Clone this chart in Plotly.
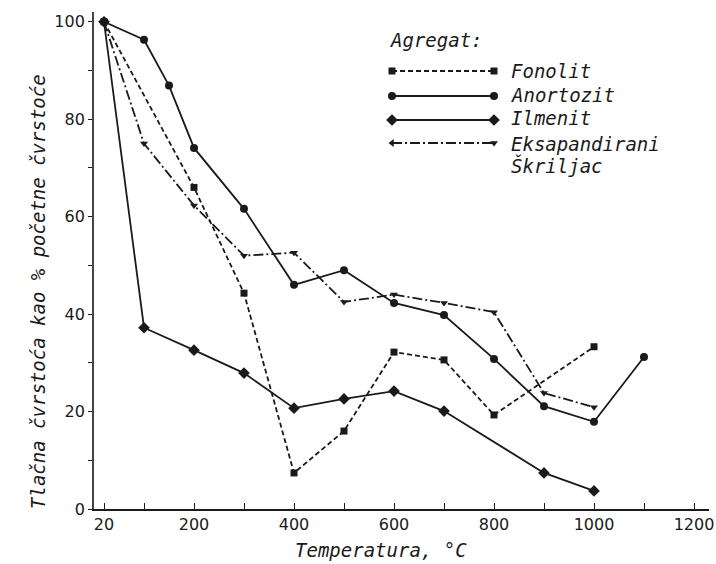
import plotly.graph_objects as go

# ---- data ----
fonolit_x = [20, 200, 300, 400, 500, 600, 700, 800, 1000]
fonolit_y = [100, 66, 44.3, 7.4, 16.0, 32.2, 30.6, 19.3, 33.3]

anortozit_x = [20, 100, 150, 200, 300, 400, 500, 600, 700, 800, 900, 1000, 1100]
anortozit_y = [100, 96.3, 86.9, 74.1, 61.6, 46.0, 49.0, 42.3, 39.8, 30.8, 21.1, 17.9, 31.2]

ilmenit_x = [20, 100, 200, 300, 400, 500, 600, 700, 900, 1000]
ilmenit_y = [100, 37.2, 32.6, 27.9, 20.7, 22.6, 24.2, 20.1, 7.4, 3.7]

skriljac_x = [20, 100, 200, 300, 400, 500, 600, 700, 800, 900, 1000]
skriljac_y = [100, 75, 62.3, 52, 52.6, 42.5, 44, 42.3, 40.4, 23.8, 20.9]

x_tickvals = [20, 100, 200, 300, 400, 500, 600, 700, 800, 900, 1000, 1100, 1200]
x_ticktext = ["20", "", "200", "", "400", "", "600", "", "800", "", "1000", "", "1200"]
y_tickvals = [0, 10, 20, 30, 40, 50, 60, 70, 80, 90, 100]
y_ticktext = ["0", "", "20", "", "40", "", "60", "", "80", "", "100"]

INK = "#1a1a1a"
MONO = "DejaVu Sans Mono"

styles = {
    "Fonolit": dict(dash="5px,3px", symbol="square", size=7),
    "Anortozit": dict(dash="solid", symbol="circle", size=8),
    "Ilmenit": dict(dash="solid", symbol="diamond", size=9),
    "Eksapandirani": dict(dash="10px,3px,2px,3px", symbol="triangle-down", size=7),
}

W, H = 716, 564
PL, PR, PT, PB = 94, 709, 12, 509          # plot-area edges in page pixels
fig = go.Figure()

for name, xs, ys in [("Fonolit", fonolit_x, fonolit_y),
                     ("Anortozit", anortozit_x, anortozit_y),
                     ("Ilmenit", ilmenit_x, ilmenit_y),
                     ("Eksapandirani", skriljac_x, skriljac_y)]:
    st = styles[name]
    fig.add_trace(go.Scatter(
        x=xs, y=ys, mode="lines+markers", name=name, showlegend=False,
        line=dict(color=INK, width=1.8, dash=st["dash"]),
        marker=dict(symbol=st["symbol"], size=st["size"], color=INK),
    ))

def px_x(p):
    return (p - PL) / (PR - PL)

def px_y(p):
    return (PB - p) / (PB - PT)

# ---- legend drawn on an overlay (paper-like) axis ----
leg_x0, leg_x1 = px_x(392), px_x(494)
leg_rows = [("Fonolit", 71), ("Anortozit", 96), ("Ilmenit", 120), ("Eksapandirani", 143)]
for name, py in leg_rows:
    st = styles[name]
    syms = [st["symbol"], st["symbol"]]
    if name == "Eksapandirani":
        syms = ["triangle-left", "triangle-down"]
    fig.add_trace(go.Scatter(
        x=[leg_x0, leg_x1], y=[px_y(py), px_y(py)], xaxis="x2", yaxis="y2",
        mode="lines+markers", showlegend=False, hoverinfo="skip",
        line=dict(color=INK, width=1.8, dash=st["dash"]),
        marker=dict(symbol=syms, size=st["size"], color=INK),
    ))

txt_font = dict(family=MONO, size=19, color=INK, style="italic")
annotations = [
    dict(text="Agregat:", x=px_x(388), y=px_y(40), xref="paper", yref="paper",
         xanchor="left", yanchor="middle", showarrow=False, font=txt_font),
]
for name, py in [("Fonolit", 71), ("Anortozit", 95), ("Ilmenit", 118),
                 ("Eksapandirani", 144), ("Škriljac", 165)]:
    annotations.append(dict(text=name, x=px_x(509), y=px_y(py), xref="paper", yref="paper",
                            xanchor="left", yanchor="middle", showarrow=False, font=txt_font))

annotations.append(dict(text="Temperatura, °C", x=px_x(381), y=px_y(550), xref="paper",
                        yref="paper", xanchor="center", yanchor="middle",
                        showarrow=False, font=txt_font))
annotations.append(dict(text="Tlačna čvrstoća kao % početne čvrstoće", x=px_x(38), y=px_y(292),
                        xref="paper", yref="paper", textangle=-90, showarrow=False,
                        xanchor="center", yanchor="middle", font=txt_font))

tick_font = dict(family="DejaVu Sans", size=16, color=INK)

fig.update_layout(
    width=W, height=H,
    margin=dict(l=PL, r=W - PR, t=PT, b=H - PB, autoexpand=False),
    paper_bgcolor="white", plot_bgcolor="white",
    xaxis=dict(range=[0, 1230], tickvals=x_tickvals, ticktext=x_ticktext,
               ticks="inside", ticklen=6, tickwidth=1.3, tickcolor=INK,
               showline=True, linecolor=INK, linewidth=1.6, showgrid=False,
               zeroline=False, tickfont=tick_font, automargin=False),
    yaxis=dict(range=[0, 102], tickvals=y_tickvals, ticktext=y_ticktext,
               ticks="outside", ticklen=4, tickwidth=1.3, tickcolor=INK,
               showline=True, linecolor="#444", linewidth=1.8, showgrid=False,
               zeroline=False, tickfont=tick_font, automargin=False),
    xaxis2=dict(range=[0, 1], overlaying="x", visible=False, fixedrange=True),
    yaxis2=dict(range=[0, 1], overlaying="y", visible=False, fixedrange=True),
    annotations=annotations,
    showlegend=False,
)

fig.write_html(
    "out.html",
    config={"displayModeBar": False},
    post_script="document.body.style.margin='0';document.body.style.overflow='hidden';",
)
